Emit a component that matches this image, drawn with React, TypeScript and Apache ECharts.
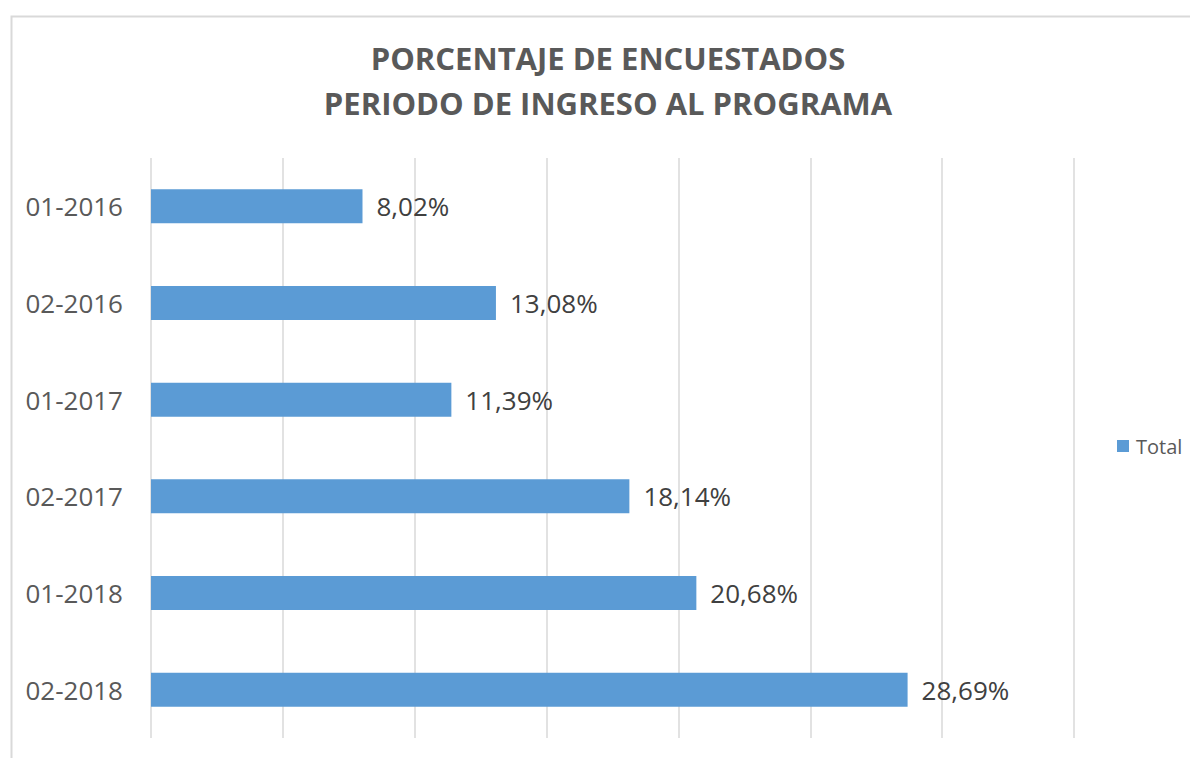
import React, { useEffect, useRef } from "react";
import * as echarts from "echarts";

const categories: string[] = ["01-2016", "02-2016", "01-2017", "02-2017", "01-2018", "02-2018"];
const totals: number[] = [8.02, 13.08, 11.39, 18.14, 20.68, 28.69];
const titleLines: string[] = ["PORCENTAJE DE ENCUESTADOS", "PERIODO DE INGRESO AL PROGRAMA"];
const seriesName = "Total";

const FONT = "'Open Sans', 'Liberation Sans', sans-serif";

export default function App() {
  const ref = useRef<HTMLDivElement>(null);
  useEffect(() => {
    if (!ref.current) return;
    const chart = echarts.init(ref.current, undefined, { renderer: "svg" });
    chart.setOption({
      animation: false,
      backgroundColor: "#ffffff",
      title: {
        text: titleLines.join("\n"),
        left: 595,
        top: 22,
        textAlign: "center",
        textStyle: {
          fontFamily: FONT,
          fontWeight: "bold",
          fontSize: 31,
          lineHeight: 45,
          color: "#595959",
        },
      },
      legend: {
        data: [seriesName],
        left: 1104,
        top: 423,
        orient: "vertical",
        icon: "rect",
        itemWidth: 12,
        itemHeight: 12,
        itemGap: 6,
        textStyle: { fontFamily: FONT, fontSize: 20, color: "#595959", padding: [0, 0, 0, 2] },
      },
      grid: { left: 143, right: 124, top: 150, bottom: 20, containLabel: false },
      xAxis: {
        type: "value",
        min: 0,
        max: 35,
        interval: 5,
        axisLine: { show: false },
        axisTick: { show: false },
        axisLabel: { show: false },
        splitLine: { show: true, lineStyle: { color: "#d9d9d9", width: 1.5 } },
      },
      yAxis: {
        type: "category",
        data: categories,
        inverse: true,
        axisLine: { show: false },
        axisTick: { show: false },
        splitLine: { show: false },
        axisLabel: { fontFamily: FONT, fontSize: 26, color: "#595959", margin: 28 },
      },
      series: [
        {
          name: seriesName,
          type: "bar",
          data: totals,
          barWidth: 34,
          itemStyle: { color: "#5b9bd5" },
          label: {
            show: true,
            position: "right",
            distance: 14,
            fontFamily: FONT,
            fontSize: 26,
            color: "#404040",
            formatter: (p: any) => p.value.toFixed(2).replace(".", ",") + "%",
          },
        },
      ],
      graphic: [
        {
          type: "rect",
          left: 1,
          top: 6,
          shape: { x: 0, y: 0, width: 1300, height: 900 },
          style: { fill: "none", stroke: "#d9d9d9", lineWidth: 2 },
          silent: true,
        },
      ],
    });
    return () => chart.dispose();
  }, []);
  return <div ref={ref} style={{ width: 1190, height: 750 }} />;
}
